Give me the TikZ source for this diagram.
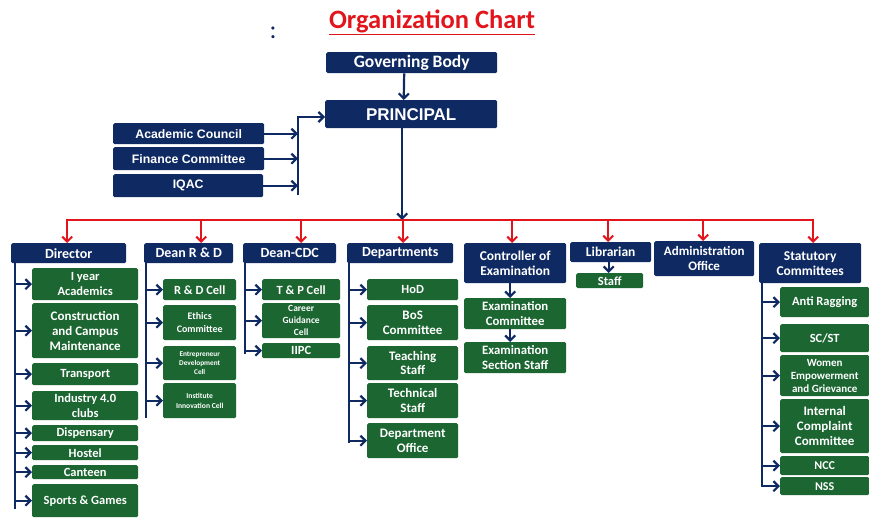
\documentclass[tikz,border=0pt]{standalone}
\usepackage{fontspec}
\setmainfont{Carlito}
\newfontfamily\arialfont{Liberation Sans}
\usetikzlibrary{arrows.meta}
\definecolor{navy}{HTML}{0F2A63}
\definecolor{leaf}{HTML}{1B6631}
\definecolor{alarm}{HTML}{E3151C}
\tikzset{
  head/.style = {anchor=north west, fill=navy, text=white, inner sep=0pt, align=center,
    rounded corners=1.5pt, font=\bfseries\fontsize{13.5}{15}\selectfont},
  unit/.style = {anchor=north west, fill=leaf, text=white, inner sep=0pt, align=center,
    rounded corners=1.5pt, font=\bfseries\fontsize{12.5}{14.5}\selectfont},
  barb/.style = {-{Straight Barb[length=5pt,width=10pt]}},
  link/.style = {draw=navy, line width=2.2pt, barb},
  spine/.style = {draw=navy, line width=2.2pt},
  redlink/.style = {draw=alarm, line width=2pt, barb}
}

\begin{document}
\begin{tikzpicture}
  [x = 1pt, y = -1pt]
  \useasboundingbox (0,0) rectangle (869,517);

  \node[anchor=base, text=navy, font=\fontsize{26}{26}\selectfont] (colon) at (273,38) {:};
  \node[anchor=base, text=alarm, font=\bfseries\fontsize{26.5}{30}\selectfont] (title) at (432,28) {\underline{Organization Chart}};

  \node[head, minimum width=171pt, minimum height=21pt, font=\bfseries\fontsize{17.5}{20}\selectfont] (gov) at (326,52) {Governing Body};
  \node[head, minimum width=172pt, minimum height=28pt, font=\arialfont\bfseries\fontsize{17}{20}\selectfont] (prin) at (325,100) {PRINCIPAL};
  \node[head, minimum width=151pt, minimum height=21pt, font=\arialfont\bfseries\fontsize{12.3}{14}\selectfont] (ac) at (113,123) {Academic Council};
  \node[head, minimum width=151pt, minimum height=23pt, font=\arialfont\bfseries\fontsize{12.3}{14}\selectfont] (fc) at (113,147) {Finance Committee};
  \node[head, minimum width=150pt, minimum height=23pt, font=\arialfont\bfseries\fontsize{12.3}{14}\selectfont] (iqac) at (113,174) {IQAC};

  \node[head, minimum width=115pt, minimum height=20pt, font=\bfseries\fontsize{14}{15}\selectfont] (dir) at (11,243) {Director};
  \node[head, minimum width=89pt, minimum height=20pt, font=\bfseries\fontsize{14}{15}\selectfont] (drd) at (144,243) {Dean R \& D};
  \node[head, minimum width=93pt, minimum height=20pt, font=\bfseries\fontsize{14}{15}\selectfont] (cdc) at (243,243) {Dean-CDC};
  \node[head, minimum width=106pt, minimum height=20pt, font=\bfseries\fontsize{14}{15}\selectfont] (dep) at (347,243) {Departments};
  \node[head, minimum width=102pt, minimum height=40pt] (coe) at (464,243) {Controller of\\Examination};
  \node[head, minimum width=81pt, minimum height=20pt] (lib) at (570,242) {Librarian};
  \node[head, minimum width=100pt, minimum height=35pt, font=\bfseries\fontsize{13}{14.5}\selectfont] (adm) at (654,241) {Administration\\Office};
  \node[head, minimum width=102pt, minimum height=40pt] (stc) at (759,243) {Statutory\\Committees};

  \node[unit, minimum width=106pt, minimum height=32pt] (d1) at (32,268) {I year\\Academics};
  \node[unit, minimum width=106pt, minimum height=55pt, font=\bfseries\fontsize{13}{15}\selectfont] (d2) at (32,303) {Construction\\and Campus\\Maintenance};
  \node[unit, minimum width=106pt, minimum height=22pt] (d3) at (32,363) {Transport};
  \node[unit, minimum width=106pt, minimum height=29pt] (d4) at (32,391) {Industry 4.0\\clubs};
  \node[unit, minimum width=106pt, minimum height=16pt] (d5) at (32,425) {Dispensary};
  \node[unit, minimum width=106pt, minimum height=15pt] (d6) at (32,445) {Hostel};
  \node[unit, minimum width=106pt, minimum height=14pt] (d7) at (32,465) {Canteen};
  \node[unit, minimum width=106pt, minimum height=33pt] (d8) at (32,484) {Sports \& Games};

  \node[unit, minimum width=73pt, minimum height=21pt] (r1) at (163,279) {R \& D Cell};
  \node[unit, minimum width=73pt, minimum height=35pt, font=\bfseries\fontsize{10}{13}\selectfont] (r2) at (163,305) {Ethics\\Committee};
  \node[unit, minimum width=73pt, minimum height=34pt, font=\bfseries\fontsize{7.3}{9.3}\selectfont] (r3) at (163,346) {Entrepreneur\\Development\\Cell};
  \node[unit, minimum width=73pt, minimum height=35pt, font=\bfseries\fontsize{7.6}{9.3}\selectfont] (r4) at (163,383) {Institute\\Innovation Cell};

  \node[unit, minimum width=78pt, minimum height=21pt] (c1) at (262,279) {T \& P Cell};
  \node[unit, minimum width=78pt, minimum height=35pt, font=\bfseries\fontsize{9.5}{12}\selectfont] (c2) at (262,303) {Career\\Guidance\\Cell};
  \node[unit, minimum width=78pt, minimum height=15pt] (c3) at (262,343) {IIPC};

  \node[unit, minimum width=91pt, minimum height=21pt] (p1) at (367,279) {HoD};
  \node[unit, minimum width=91pt, minimum height=35pt, font=\bfseries\fontsize{13}{14.5}\selectfont] (p2) at (367,305) {BoS\\Committee};
  \node[unit, minimum width=91pt, minimum height=34pt, font=\bfseries\fontsize{13}{14.5}\selectfont] (p3) at (367,346) {Teaching\\Staff};
  \node[unit, minimum width=91pt, minimum height=35pt, font=\bfseries\fontsize{13}{14.5}\selectfont] (p4) at (367,383) {Technical\\Staff};
  \node[unit, minimum width=91pt, minimum height=35pt, font=\bfseries\fontsize{13}{14.5}\selectfont] (p5) at (367,423) {Department\\Office};

  \node[unit, minimum width=102pt, minimum height=31pt, font=\bfseries\fontsize{12.8}{14.5}\selectfont] (e1) at (464,298) {Examination\\Committee};
  \node[unit, minimum width=102pt, minimum height=31pt, font=\bfseries\fontsize{12.8}{14.5}\selectfont] (e2) at (464,342) {Examination\\Section Staff};

  \node[unit, minimum width=67pt, minimum height=15pt] (st) at (576,273) {Staff};

  \node[unit, minimum width=89pt, minimum height=30pt] (s1) at (780,287) {Anti Ragging};
  \node[unit, minimum width=89pt, minimum height=28pt] (s2) at (780,324) {SC/ST};
  \node[unit, minimum width=89pt, minimum height=41pt, font=\bfseries\fontsize{11}{13}\selectfont] (s3) at (780,355) {Women\\Empowerment\\and Grievance};
  \node[unit, minimum width=89pt, minimum height=54pt, font=\bfseries\fontsize{13}{15}\selectfont] (s4) at (780,399) {Internal\\Complaint\\Committee};
  \node[unit, minimum width=89pt, minimum height=19pt, font=\bfseries\fontsize{12}{14}\selectfont] (s5) at (780,456) {NCC};
  \node[unit, minimum width=89pt, minimum height=18pt, font=\bfseries\fontsize{12}{14}\selectfont] (s6) at (780,477) {NSS};

  \coordinate (feed) at (298,117);
  \coordinate (bus) at (0,220);
  \coordinate (dsp) at ([xshift=4pt]dir.south west);
  \coordinate (rsp) at ([xshift=2pt]drd.south west);
  \coordinate (csp) at ([xshift=2pt]cdc.south west);
  \coordinate (psp) at ([xshift=2pt]dep.south west);
  \coordinate (ssp) at ([xshift=3pt]stc.south west);

  \draw[link] ([xshift=-7.5pt]gov.south) -- ([xshift=-7.5pt]prin.north);
  \draw[link] ([yshift=2pt]feed |- iqac.south) -- (feed) -- (feed -| prin.west);
  \foreach \b in {ac,fc,iqac}{
    \draw[link] (\b.east) -- (\b.east -| feed);
  }
  \draw[link] ([xshift=-9pt]prin.south) -- ([xshift=-9pt]prin.south |- bus);

  \draw[redlink, {Straight Barb[length=5pt,width=10pt]}-{Straight Barb[length=5pt,width=10pt]}]
    ([xshift=-1.5pt]dir.north) -- ([xshift=-1.5pt]dir.north |- bus)
    -- ([xshift=3pt]stc.north |- bus) -- ([xshift=3pt]stc.north);
  \foreach \n/\dx in {drd/12.5, cdc/11.5, dep/3, coe/-3, lib/-2.5, adm/-1}{
    \draw[redlink] ([xshift=\dx pt]\n.north |- bus) -- ([xshift=\dx pt]\n.north);
  }

  \draw[spine] (dsp) -- ([yshift=-8pt]dsp |- d8.west);
  \foreach \c in {d1,d2,d3,d4,d5,d6,d7,d8}{
    \draw[link] (dsp |- \c.west) -- (\c.west);
  }
  \draw[spine] (rsp) -- ([yshift=-17pt]rsp |- r4.west);
  \foreach \c in {r1,r2,r3,r4}{
    \draw[link] (rsp |- \c.west) -- (\c.west);
  }
  \draw[spine] (csp) -- ([yshift=-3pt]csp |- c3.west);
  \foreach \c in {c1,c2,c3}{
    \draw[link] (csp |- \c.west) -- (\c.west);
  }
  \draw[spine] (psp) -- ([yshift=-2pt]psp |- p5.west);
  \foreach \c in {p1,p2,p3,p4,p5}{
    \draw[link] (psp |- \c.west) -- (\c.west);
  }
  \draw[spine] (ssp) -- ([yshift=-1pt]ssp |- s6.west);
  \foreach \c in {s1,s2,s3,s4,s5,s6}{
    \draw[link] (ssp |- \c.west) -- (\c.west);
  }

  \draw[link] ([xshift=-5pt]coe.south) -- ([xshift=-5pt]e1.north);
  \draw[link] ([xshift=-5pt]e1.south) -- ([xshift=-5pt]e2.north);
  \draw[link] ([xshift=-2pt]lib.south) -- ([xshift=-1pt]st.north);
\end{tikzpicture}
\end{document}
